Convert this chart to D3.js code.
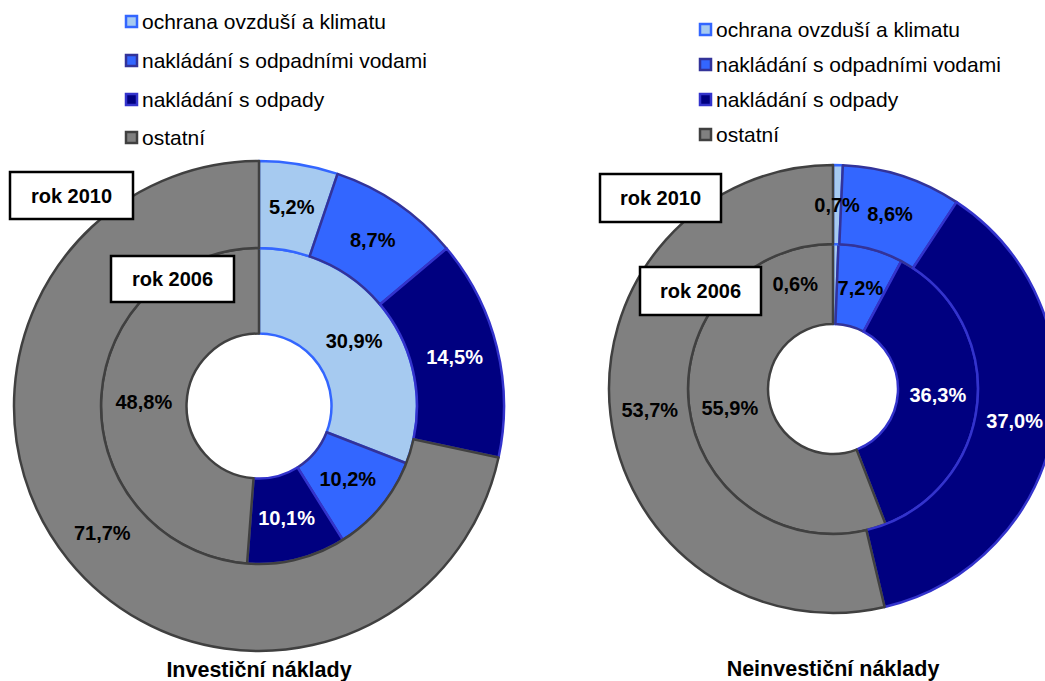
<!DOCTYPE html>
<html>
<head>
<meta charset="utf-8">
<script src="https://cdn.jsdelivr.net/npm/d3@7"></script>
<style>
  html, body { margin: 0; padding: 0; background: #fff; }
  svg { display: block; font-family: "Liberation Sans", Arial, sans-serif; }
</style>
</head>
<body>
<svg id="chart" width="1045" height="681"></svg>
<script>
// ---- data ----
const categories = ["ochrana ovzduší a klimatu", "nakládání s odpadními vodami", "nakládání s odpady", "ostatní"];
const invest2010 = [5.2, 8.7, 14.5, 71.7];
const invest2006 = [30.9, 10.2, 10.1, 48.8];
const noninvest2010 = [0.7, 8.6, 37.0, 53.7];
const noninvest2006 = [0.6, 7.2, 36.3, 55.9];
const chartTitles = ["Investiční náklady", "Neinvestiční náklady"];
const ringLabels = ["rok 2010", "rok 2006"];

// ---- styles ----
const fills = ["#A6CAF0", "#3366FF", "#000080", "#808080"];
const strokes = ["#3366FF", "#333399", "#3333CC", "#404040"];
const labelColors = ["#000", "#000", "#fff", "#000"];
const FONT = '"Liberation Sans", Arial, sans-serif';

const svg = d3.select("#chart");
const color = d3.scaleOrdinal().domain(categories).range(fills);
const strokeC = d3.scaleOrdinal().domain(categories).range(strokes);
const textC = d3.scaleOrdinal().domain(categories).range(labelColors);

const fmt = v => v.toFixed(1).replace(".", ",") + "%";

const charts = [
  { outer: invest2010, inner: invest2006, title: chartTitles[0],
    cx: 259, cy: 406, R: 245, ringR: 158, hole: 72.5, titleY: 677,
    legendX: 125, legendY: [29, 68, 107, 145],
    box2010: {x: 10, y: 172, w: 123, h: 47}, box2006: {x: 111, y: 256, w: 123, h: 46} },
  { outer: noninvest2010, inner: noninvest2006, title: chartTitles[1],
    cx: 833, cy: 389, R: 224, ringR: 145, hole: 65, titleY: 676,
    legendX: 699, legendY: [37, 72, 107, 142],
    box2010: {x: 600, y: 174, w: 121, h: 48}, box2006: {x: 640, y: 267, w: 121, h: 48} }
];

const pie = d3.pie().sort(null).value(d => d.v);

charts.forEach(c => {
  const g = svg.append("g").attr("transform", `translate(${c.cx},${c.cy})`);

  const rings = [
    { vals: c.inner, r0: c.hole, r1: c.ringR, inner: true },
    { vals: c.outer, r0: c.ringR, r1: c.R, inner: false }
  ];

  rings.forEach(ring => {
    const arc = d3.arc().innerRadius(ring.r0).outerRadius(ring.r1);
    const data = pie(ring.vals.map((v, i) => ({ v, cat: categories[i] })));
    g.append("g").selectAll("path").data(data).join("path")
      .attr("d", arc)
      .attr("fill", d => color(d.data.cat))
      .attr("stroke", d => strokeC(d.data.cat))
      .attr("stroke-width", 2.5)
      .attr("stroke-linejoin", "round");
    ring.data = data; ring.arc = arc;
  });

  // labels
  rings.forEach(ring => {
    g.append("g").selectAll("text").data(ring.data).join("text")
      .each(function(d) {
        const [x, y] = ring.arc.centroid(d);
        const sel = d3.select(this);
        // tiny inner slice: nudge label to the left so it doesn't collide with its neighbour
        if (ring.inner && d.data.v < 2) {
          sel.attr("x", x - 17).attr("text-anchor", "end");
        } else {
          sel.attr("x", x).attr("text-anchor", "middle");
        }
        sel.attr("y", y);
      })
      .attr("dominant-baseline", "central")
      .attr("font-family", FONT)
      .attr("font-weight", "bold")
      .attr("font-size", 20)
      .attr("fill", d => textC(d.data.cat))
      .text(d => fmt(d.data.v));
  });

  // ring year boxes
  [[c.box2010, ringLabels[0]], [c.box2006, ringLabels[1]]].forEach(([b, t]) => {
    svg.append("rect").attr("x", b.x).attr("y", b.y).attr("width", b.w).attr("height", b.h)
      .attr("fill", "#fff").attr("stroke", "#000").attr("stroke-width", 2.5);
    svg.append("text").attr("x", b.x + b.w / 2).attr("y", b.y + b.h / 2)
      .attr("text-anchor", "middle").attr("dominant-baseline", "central")
      .attr("font-family", FONT).attr("font-weight", "bold").attr("font-size", 20)
      .text(t);
  });

  // title
  svg.append("text").attr("x", c.cx).attr("y", c.titleY)
    .attr("text-anchor", "middle")
    .attr("font-family", FONT).attr("font-weight", "bold").attr("font-size", 21.5)
    .text(c.title);

  // legend
  const lg = svg.append("g");
  categories.forEach((cat, i) => {
    const by = c.legendY[i];
    lg.append("rect").attr("x", c.legendX + 1).attr("y", by - 13).attr("width", 11).attr("height", 11)
      .attr("fill", color(cat)).attr("stroke", strokeC(cat)).attr("stroke-width", 2.5);
    lg.append("text").attr("x", c.legendX + 17).attr("y", by)
      .attr("font-family", FONT).attr("font-size", 21).attr("fill", "#000")
      .text(cat);
  });
});
</script>
</body>
</html>
